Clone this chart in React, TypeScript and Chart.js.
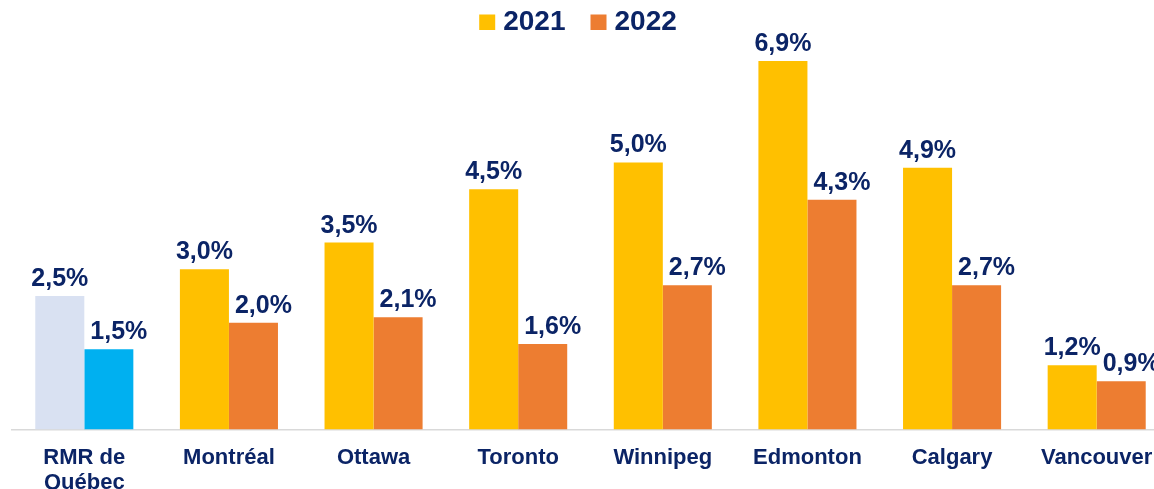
import React, { useEffect, useRef } from "react";
import { Chart, registerables } from "chart.js";

Chart.register(...registerables);

const categories: (string | string[])[] = [
  ["RMR de", "Québec"],
  "Montréal",
  "Ottawa",
  "Toronto",
  "Winnipeg",
  "Edmonton",
  "Calgary",
  "Vancouver",
];
const seriesNames = ["2021", "2022"];
const values2021 = [2.5, 3.0, 3.5, 4.5, 5.0, 6.9, 4.9, 1.2];
const values2022 = [1.5, 2.0, 2.1, 1.6, 2.7, 4.3, 2.7, 0.9];

const NAVY = "#0B2466";
const YELLOW = "#FFC000";
const ORANGE = "#ED7D31";
const HIGHLIGHT_2021 = "#D9E1F2";
const HIGHLIGHT_2022 = "#00B0F0";
const FONT = "'Liberation Sans', Arial, Helvetica, sans-serif";

const fmt = (v: number) => v.toFixed(1).replace(".", ",") + "%";

const valueLabelPlugin = {
  id: "valueLabels",
  afterDatasetsDraw(chart: any) {
    const ctx = chart.ctx;
    ctx.save();
    ctx.font = `bold 25px ${FONT}`;
    ctx.fillStyle = NAVY;
    ctx.textAlign = "center";
    ctx.textBaseline = "alphabetic";
    chart.data.datasets.forEach((ds: any, i: number) => {
      const meta = chart.getDatasetMeta(i);
      const shift = i === 1 ? 10 : 0;
      meta.data.forEach((bar: any, j: number) => {
        ctx.fillText(fmt(ds.data[j]), bar.x + shift, bar.y - 10);
      });
    });
    ctx.restore();
  },
};

const legendPlugin = {
  id: "customLegend",
  afterDraw(chart: any) {
    const ctx = chart.ctx;
    ctx.save();
    ctx.font = `bold 28px ${FONT}`;
    ctx.textBaseline = "alphabetic";
    ctx.textAlign = "left";
    const items = chart.data.datasets.map((ds: any) => ({
      text: ds.label,
      color: ds.legendColor,
      w: ctx.measureText(ds.label).width,
    }));
    const box = 16;
    const gap = 8;
    const spacing = 25;
    const total =
      items.reduce((s: number, it: any) => s + box + gap + it.w, 0) +
      spacing * (items.length - 1);
    let x = 578 - total / 2;
    items.forEach((it: any) => {
      ctx.fillStyle = it.color;
      ctx.fillRect(x, 14.5, box, 15.5);
      ctx.fillStyle = NAVY;
      ctx.fillText(it.text, x + box + gap, 30);
      x += box + gap + it.w + spacing;
    });
    ctx.restore();
  },
};

export default function App() {
  const canvasRef = useRef<HTMLCanvasElement | null>(null);

  useEffect(() => {
    if (!canvasRef.current) return;
    const chart = new Chart(canvasRef.current, {
      type: "bar",
      data: {
        labels: categories,
        datasets: [
          {
            label: seriesNames[0],
            data: values2021,
            backgroundColor: values2021.map((_, i) => (i === 0 ? HIGHLIGHT_2021 : YELLOW)),
            legendColor: YELLOW,
            barPercentage: 1,
            categoryPercentage: 0.678,
          } as any,
          {
            label: seriesNames[1],
            data: values2022,
            backgroundColor: values2022.map((_, i) => (i === 0 ? HIGHLIGHT_2022 : ORANGE)),
            legendColor: ORANGE,
            barPercentage: 1,
            categoryPercentage: 0.678,
          } as any,
        ],
      },
      options: {
        responsive: false,
        animation: false,
        events: [],
        layout: { padding: { left: 12, right: 3, top: 29, bottom: 6 } },
        plugins: {
          legend: { display: false },
          tooltip: { enabled: false },
          title: { display: false },
        },
        scales: {
          x: {
            grid: { display: false, drawTicks: false },
            border: { display: true, color: "#D9D9D9", width: 1.5 },
            ticks: {
              color: NAVY,
              padding: 16,
              maxRotation: 0,
              autoSkip: false,
              font: { family: FONT, size: 22, weight: "bold", lineHeight: 1.15 },
            },
          },
          y: {
            display: false,
            min: 0,
            max: 7.5,
            grid: { display: false },
          },
        },
      },
      plugins: [valueLabelPlugin, legendPlugin],
    });
    return () => chart.destroy();
  }, []);

  return (
    <div
      style={{
        position: "fixed",
        left: 0,
        top: 0,
        width: 1154,
        height: 489,
        overflow: "hidden",
        background: "#ffffff",
      }}
    >
      <canvas ref={canvasRef} width={1172} height={518} style={{ display: "block" }} />
    </div>
  );
}
